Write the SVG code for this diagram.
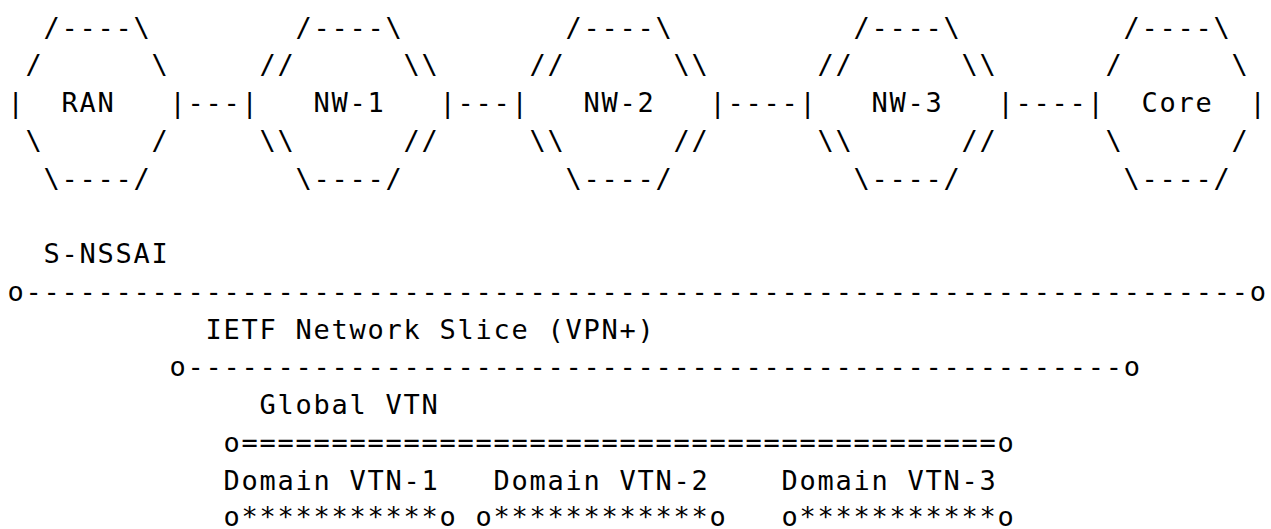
<svg xmlns="http://www.w3.org/2000/svg" width="1271" height="529" viewBox="0 0 1271 529" xml:space="preserve">
  <style>
    text { font-family: "DejaVu Sans Mono", "Liberation Mono", monospace; font-size: 27px; letter-spacing: 1.75px; fill: #000; white-space: pre; }
  </style>
  <rect width="1271" height="529" fill="#fff"/>
  <!-- character grid: column c starts at x = 7.4 + 18*c, row baselines every 37.75px -->
  <g id="ran">
    <text x="43.4" y="36.5">/----\</text>
    <text x="25.4" y="74.25">/      \</text>
    <text x="7.4" y="112">|  RAN   |</text>
    <text x="25.4" y="149.75">\      /</text>
    <text x="43.4" y="187.5">\----/</text>
  </g>
  <g id="nw-1">
    <text x="295.4" y="36.5">/----\</text>
    <text x="259.4" y="74.25">//      \\</text>
    <text x="241.4" y="112">|   NW-1   |</text>
    <text x="259.4" y="149.75">\\      //</text>
    <text x="295.4" y="187.5">\----/</text>
  </g>
  <g id="nw-2">
    <text x="565.4" y="36.5">/----\</text>
    <text x="529.4" y="74.25">//      \\</text>
    <text x="511.4" y="112">|   NW-2   |</text>
    <text x="529.4" y="149.75">\\      //</text>
    <text x="565.4" y="187.5">\----/</text>
  </g>
  <g id="nw-3">
    <text x="853.4" y="36.5">/----\</text>
    <text x="817.4" y="74.25">//      \\</text>
    <text x="799.4" y="112">|   NW-3   |</text>
    <text x="817.4" y="149.75">\\      //</text>
    <text x="853.4" y="187.5">\----/</text>
  </g>
  <g id="core">
    <text x="1123.4" y="36.5">/----\</text>
    <text x="1105.4" y="74.25">/      \</text>
    <text x="1087.4" y="112">|  Core  |</text>
    <text x="1105.4" y="149.75">\      /</text>
    <text x="1123.4" y="187.5">\----/</text>
  </g>
  <g id="connectors">
    <text x="187.4" y="112">---</text>
    <text x="457.4" y="112">---</text>
    <text x="727.4" y="112">----</text>
    <text x="1015.4" y="112">----</text>
  </g>
  <g id="s-nssai">
    <text x="43.4" y="263">S-NSSAI</text>
    <text x="7.4" y="300.75">o--------------------------------------------------------------------o</text>
  </g>
  <g id="ietf-network-slice">
    <text x="205.4" y="338.5">IETF Network Slice (VPN+)</text>
    <text x="169.4" y="376.25">o----------------------------------------------------o</text>
  </g>
  <g id="global-vtn">
    <text x="259.4" y="414">Global VTN</text>
    <text x="223.4" y="451.75">o==========================================o</text>
  </g>
  <g id="domain-vtns">
    <text x="223.4" y="489.5">Domain VTN-1</text>
    <text x="493.4" y="489.5">Domain VTN-2</text>
    <text x="781.4" y="489.5">Domain VTN-3</text>
    <text x="223.4" y="526">o***********o</text>
    <text x="475.4" y="526">o************o</text>
    <text x="781.4" y="526">o***********o</text>
  </g>
</svg>
